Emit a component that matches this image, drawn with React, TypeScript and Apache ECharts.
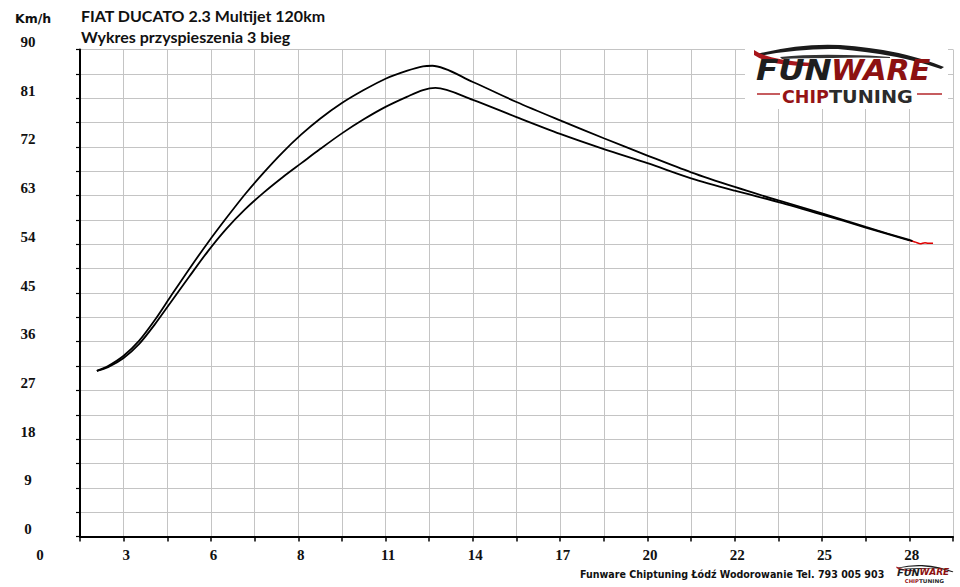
import React, { useEffect, useRef } from "react";
import * as echarts from "echarts";

// ---- data (time in s, speed in km/h) ----
const upperTime = [1.94, 2.3, 2.8, 3.3, 3.8, 4.3, 4.9, 5.5, 6.1, 6.7, 7.3, 7.9, 8.5, 9.1, 9.8, 10.5, 11.2, 11.9, 12.4, 12.7, 14.0, 15.4, 16.8, 18.2, 19.6, 21.0, 22.4, 23.8, 25.2, 26.6, 28.0, 28.1];
const upperSpeed = [30.6, 31.5, 33.4, 36.2, 40.0, 44.3, 49.4, 54.3, 58.9, 63.3, 67.3, 71.0, 74.3, 77.2, 80.1, 82.5, 84.6, 86.1, 86.9, 87.0, 84.0, 80.3, 76.9, 73.6, 70.4, 67.3, 64.6, 62.1, 59.7, 57.2, 54.8, 54.6];
const lowerTime = [1.94, 2.3, 2.8, 3.3, 3.8, 4.3, 4.9, 5.5, 6.1, 6.7, 7.3, 7.9, 8.5, 9.1, 9.8, 10.5, 11.2, 11.9, 12.4, 12.8, 14.0, 15.4, 16.8, 18.2, 19.6, 21.0, 22.4, 23.8, 25.2, 26.6, 28.0];
const lowerSpeed = [30.6, 31.3, 33.0, 35.6, 39.2, 43.2, 48.0, 52.7, 56.9, 60.5, 63.6, 66.4, 69.0, 71.6, 74.5, 77.1, 79.4, 81.3, 82.5, 82.9, 80.7, 77.5, 74.4, 71.6, 69.0, 66.2, 63.9, 61.8, 59.5, 57.1, 54.7];
const tailTime = [28.0, 28.2, 28.35, 28.5, 28.6, 28.76];
const tailSpeed = [54.7, 54.4, 54.1, 54.3, 54.2, 54.2];

const xTickLabels = ["0", "3", "6", "8", "11", "14", "17", "20", "22", "25", "28"];
const yTickLabels = ["0", "9", "18", "27", "36", "45", "54", "63", "72", "81", "90"];

const titleLines = ["FIAT DUCATO 2.3 Multijet 120km", "Wykres przyspieszenia 3 bieg"];
const unitLabel = "Km/h";
const footerText = "Funware Chiptuning Łódź Wodorowanie Tel. 793 005 903";

const X_STEP = 1.4;

const zip = (a: number[], b: number[]) => a.map((v, i) => [v, b[i]]);

echarts.graphic.registerShape(
  "swooshBlack",
  echarts.graphic.extendPath(
    "M 757 54 Q 800 43 840 45 Q 900 49 944 67 L 941 69 Q 898 54 838 49 Q 800 48 759 56 Z",
    {}
  )
);
echarts.graphic.registerShape(
  "swooshInner",
  echarts.graphic.extendPath(
    "M 780 57 Q 810 54 845 55 Q 870 55 890 57 L 890 58 Q 860 57 832 58 Q 805 58 782 59 Z",
    {}
  )
);
echarts.graphic.registerShape(
  "swooshRed",
  echarts.graphic.extendPath(
    "M 754 50 Q 768 60 814 63 L 813 66 Q 770 66 754 55 Z",
    {}
  )
);

function logoElements(ox: number, oy: number, s: number, big: boolean) {
  const tx = (x: number) => ox + x * s;
  const ty = (y: number) => oy + y * s;
  const els: any[] = [];
  if (big) {
    els.push({
      type: "rect",
      shape: { x: 745, y: 38, width: 203, height: 71 },
      style: { fill: "#ffffff" },
      z: 10,
    });
  }
  const word = (text: string, x: number, y: number, fill: string, font: string, sx: number) => ({
    type: "text",
    x: tx(x),
    y: ty(y),
    scaleX: sx,
    z: 11,
    style: { text, fill, font, verticalAlign: "middle", align: "left" },
  });
  els.push(
    { type: "swooshBlack", x: ox, y: oy, scaleX: s, scaleY: s, style: { fill: "#1b1b1b" }, z: 11 },
    { type: "swooshInner", x: ox, y: oy, scaleX: s, scaleY: s, style: { fill: "#333" }, z: 11 },
    { type: "swooshRed", x: ox, y: oy, scaleX: s, scaleY: s, style: { fill: "#a8161b" }, z: 11 },
    word("FUN", 756, 70, "#1e1e1e", `italic bold ${29 * s}px "DejaVu Sans"`, 1.12),
    word("WARE", 831, 70, "#8c1111", `italic bold ${29 * s}px "DejaVu Sans"`, 1.04),
    word("CHIP", 782, 97, "#951316", `bold ${17.5 * s}px "DejaVu Sans"`, 1.0),
    word("TUNING", 829, 97, "#2b2b2b", `bold ${17.5 * s}px "DejaVu Sans"`, 1.1)
  );
  if (big) {
    els.push(
      { type: "line", z: 11, shape: { x1: tx(757), y1: ty(94), x2: tx(780), y2: ty(94) }, style: { stroke: "#b3262a", lineWidth: 1.5 } },
      { type: "line", z: 11, shape: { x1: tx(917), y1: ty(94), x2: tx(942), y2: ty(94) }, style: { stroke: "#b3262a", lineWidth: 1.5 } }
    );
  }
  return els;
}

export default function App() {
  const ref = useRef<HTMLDivElement>(null);

  useEffect(() => {
    if (!ref.current) return;
    const chart = echarts.init(ref.current, undefined, { renderer: "svg" });

    const labelFont = {
      fontFamily: '"Liberation Serif", serif',
      fontWeight: "bold" as const,
      fontSize: 15,
      color: "#111",
    };

    chart.setOption({
      animation: false,
      backgroundColor: "#ffffff",
      grid: { left: 80, top: 49.5, right: 7, bottom: 50.5, containLabel: false },
      xAxis: {
        type: "value",
        min: X_STEP,
        max: X_STEP * 21,
        interval: X_STEP,
        axisLine: { show: true, onZero: false, lineStyle: { color: "#000", width: 2 } },
        axisTick: { show: true, length: 5, lineStyle: { color: "#000", width: 1.5 } },
        splitLine: { show: true, lineStyle: { color: "#c4c4c4", width: 1 } },
        axisLabel: {
          ...labelFont,
          margin: 11,
          padding: [0, 0, 0, 5],
          showMinLabel: true,
          showMaxLabel: true,
          formatter: (v: number) => {
            const k = Math.round(v / X_STEP);
            return k % 2 === 0 ? xTickLabels[k / 2] ?? "" : "";
          },
        },
      },
      yAxis: {
        type: "value",
        min: 0,
        max: 90,
        interval: 4.5,
        axisLine: { show: true, lineStyle: { color: "#000", width: 2 } },
        axisTick: { show: true, length: 4, lineStyle: { color: "#000", width: 1.2 } },
        splitLine: { show: true, lineStyle: { color: "#c4c4c4", width: 1 } },
        axisLabel: {
          ...labelFont,
          align: "center",
          verticalAlign: "bottom",
          lineHeight: 15,
          margin: 52,
          showMinLabel: true,
          showMaxLabel: true,
          formatter: (v: number) => {
            const k = Math.round(v / 4.5);
            return k % 2 === 0 ? yTickLabels[k / 2] ?? "" : "";
          },
        },
      },
      series: [
        {
          type: "line",
          data: zip(upperTime, upperSpeed),
          showSymbol: false,
          smooth: 0.3,
          lineStyle: { color: "#000", width: 1.8 },
          z: 3,
        },
        {
          type: "line",
          data: zip(lowerTime, lowerSpeed),
          showSymbol: false,
          smooth: 0.3,
          lineStyle: { color: "#000", width: 1.8 },
          z: 3,
        },
        {
          type: "line",
          data: zip(tailTime, tailSpeed),
          showSymbol: false,
          smooth: 0.2,
          lineStyle: { color: "#e00000", width: 1.5 },
          z: 2,
        },
      ],
      graphic: [
        {
          type: "text",
          left: 15,
          top: 12,
          style: { text: unitLabel, font: 'bold 12.5px "DejaVu Sans"', fill: "#111" },
        },
        {
          type: "text",
          x: 81,
          y: 15,
          style: { text: titleLines[0], font: 'bold 16px Lato', fill: "#111", verticalAlign: "middle" },
        },
        {
          type: "text",
          x: 81,
          y: 36,
          style: { text: titleLines[1], font: 'bold 16px Lato', fill: "#111", verticalAlign: "middle" },
        },
        {
          type: "text",
          x: 40,
          y: 555,
          style: {
            text: xTickLabels[0],
            font: 'bold 15px "Liberation Serif"',
            fill: "#111",
            align: "center",
            verticalAlign: "middle",
          },
        },
        {
          type: "group",
          children: logoElements(0, 0, 1, true),
        },
        {
          type: "group",
          children: logoElements(897 - 756 * 0.3, 565 - 45 * 0.3, 0.3, false),
        },
        {
          type: "text",
          x: 580,
          y: 574,
          style: {
            text: footerText,
            font: 'bold 10.6px "DejaVu Sans Condensed", "DejaVu Sans"',
            fill: "#111",
            verticalAlign: "middle",
            align: "left",
          },
        },
      ],
    });

    return () => chart.dispose();
  }, []);

  return (
    <div
      ref={ref}
      style={{ position: "fixed", left: 0, top: 0, width: 960, height: 587, background: "#fff" }}
    />
  );
}
